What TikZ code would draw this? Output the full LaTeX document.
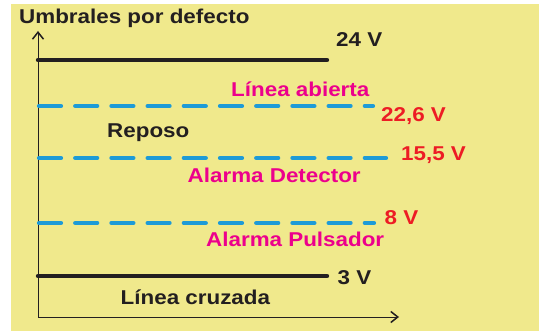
\documentclass[tikz,border=0pt]{standalone}
\usepackage{fontspec}
\setmainfont{Liberation Sans}
\usetikzlibrary{arrows.meta}
\definecolor{bgyellow}{HTML}{F0E98C}
\definecolor{txtblack}{HTML}{231F20}
\definecolor{txtred}{HTML}{ED1C24}
\definecolor{txtmag}{HTML}{EC008C}
\definecolor{dashblue}{HTML}{1E9BD7}
\newcommand\wideTxt[1]{\scalebox{1.12}[1]{#1}}
\tikzset{
  lbl/.style={inner sep=0pt, anchor=base west, font=\fontsize{20pt}{24pt}\selectfont\bfseries},
  blk/.style={lbl, text=txtblack},
  redl/.style={lbl, text=txtred},
  magl/.style={lbl, text=txtmag},
  solidlevel/.style={draw=txtblack, line width=4.4pt, line cap=round},
  dashlevel/.style={draw=dashblue, line width=4.2pt, line cap=round, dash pattern=on 22pt off 14.2pt},
  axisline/.style={draw=txtblack, line width=1pt, -{Straight Barb[length=7pt,width=11pt,line width=1.5pt]}}
}
\begin{document}
\begin{tikzpicture}[x=1pt,y=-1pt]
\useasboundingbox (0,0) rectangle (541,331);
\fill[white] (0,0) rectangle (541,331);
\fill[bgyellow] (11,4) rectangle (539,331);
% axes
\coordinate (o) at (38,317);
\coordinate (ytop) at (38,31);
\coordinate (xend) at (399,317);
\draw[axisline] (o) -- (ytop);
\draw[axisline] (o) -- (xend);
% levels
\coordinate (l24a) at (38,60);   \coordinate (l24b) at (327,60);
\coordinate (l22a) at (39,106);  \coordinate (l22b) at (373,106);
\coordinate (l15a) at (39,158);  \coordinate (l15b) at (386,158);
\coordinate (l8a)  at (39,223);  \coordinate (l8b)  at (374,223);
\coordinate (l3a)  at (38,276);  \coordinate (l3b)  at (327,276);
\draw[solidlevel] (l24a) -- (l24b);
\draw[dashlevel] (l22a) -- (l22b);
\draw[dashlevel] (l15a) -- (l15b);
\draw[dashlevel] (l8a) -- (l8b);
\draw[solidlevel] (l3a) -- (l3b);
% labels
\node[blk] (title) at (19,24) {\wideTxt{Umbrales por defecto}};
\node[blk] (v24) at (336,47) {\wideTxt{24 V}};
\node[magl] (abierta) at (231,97) {\wideTxt{Línea abierta}};
\node[redl] (v22) at (381,122) {\wideTxt{22,6 V}};
\node[blk] (reposo) at (107,137.5) {\wideTxt{Reposo}};
\node[redl] (v15) at (401,161) {\wideTxt{15,5 V}};
\node[magl] (detector) at (187.5,182.5) {\wideTxt{Alarma Detector}};
\node[redl] (v8) at (384.5,224.5) {\wideTxt{8 V}};
\node[magl] (pulsador) at (206,246.5) {\wideTxt{Alarma Pulsador}};
\node[blk] (v3) at (337.5,284.5) {\wideTxt{3 V}};
\node[blk] (cruzada) at (120.5,304.5) {\wideTxt{Línea cruzada}};
\end{tikzpicture}
\end{document}
